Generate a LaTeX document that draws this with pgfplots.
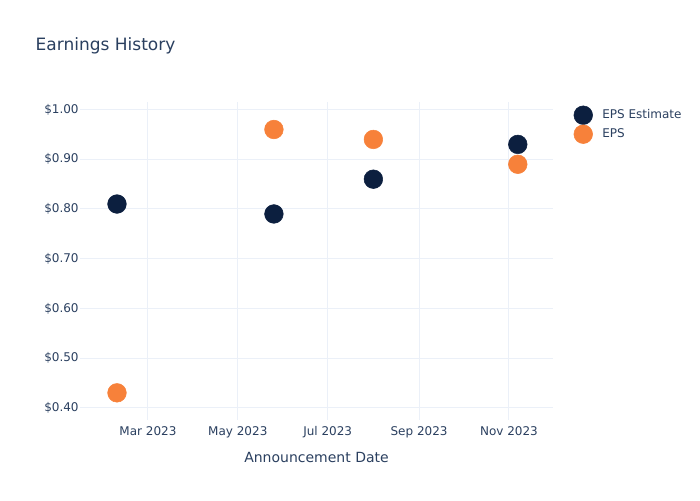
\documentclass[border=0pt]{standalone}
\usepackage{pgfplots}
\pgfplotsset{compat=1.18}
\usepackage{fontspec}
\setmainfont{DejaVu Sans}
\definecolor{txt}{HTML}{2A3F5F}
\definecolor{gridc}{HTML}{EBF0F8}
\definecolor{navy}{HTML}{0C1F3F}
\definecolor{orng}{HTML}{F7813A}
\begin{document}
\begin{tikzpicture}[x=0.75pt,y=0.75pt]
\path[use as bounding box] (0,0) rectangle (700,500);
\node[anchor=west,text=txt,font=\fontsize{12.75pt}{15pt}\selectfont] at (31,454) {Earnings History};
\begin{axis}[
  at={(60pt,60.25pt)}, anchor=south west,
  scale only axis, width=354.75pt, height=238.5pt,
  xmin=12.9, xmax=333.9, ymin=0.376, ymax=1.016,
  axis line style={draw=none},
  tick style={draw=none},
  grid=major, major grid style={gridc, line width=0.75pt},
  xtick={59,120,181,243,304},
  xticklabels={Mar 2023,May 2023,Jul 2023,Sep 2023,Nov 2023},
  ytick={0.4,0.5,0.6,0.7,0.8,0.9,1.0},
  yticklabels={\$0.40,\$0.50,\$0.60,\$0.70,\$0.80,\$0.90,\$1.00},
  ticklabel style={text=txt, font=\fontsize{9pt}{11pt}\selectfont},
  xticklabel style={yshift=-1.5pt},
  yticklabel style={xshift=2.5pt},
  xlabel={Announcement Date},
  xlabel style={text=txt, font=\fontsize{10.5pt}{12pt}\selectfont, yshift=-4pt},
  legend style={at={(1.0352,0.996)}, anchor=north west, draw=none, fill=none,
    text=txt, font=\fontsize{9pt}{11pt}\selectfont, row sep=0.25pt,
    /tikz/every odd column/.append style={column sep=5.25pt}},
  legend cell align=left,
  clip=false,
]
\addplot[only marks, mark=*, mark size=7pt, mark options={draw=navy, fill=navy}, color=navy]
  coordinates {(38,0.81) (144.5,0.79) (212,0.86) (310,0.93)};
\addlegendentry{EPS Estimate}
\addplot[only marks, mark=*, mark size=7pt, mark options={draw=orng, fill=orng}, color=orng]
  coordinates {(38,0.43) (144.5,0.96) (212,0.94) (310,0.89)};
\addlegendentry{EPS}
\end{axis}
\end{tikzpicture}
\end{document}
